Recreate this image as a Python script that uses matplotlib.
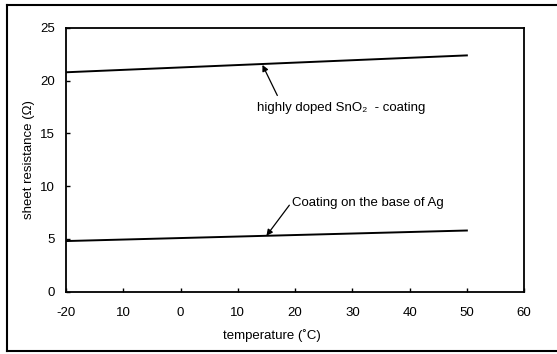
import matplotlib.pyplot as plt
from matplotlib.lines import Line2D

plt.rcParams['font.family'] = ['Liberation Sans', 'DejaVu Sans']

# data
temps = [-20, 50]
sno2_res = [20.8, 22.4]
ag_res = [4.8, 5.8]
x_ticks = [-20, -10, 0, 10, 20, 30, 40, 50, 60]
x_labels = ['-20', '10', '0', '10', '20', '30', '40', '50', '60']
y_ticks = [0, 5, 10, 15, 20, 25]

fig = plt.figure(figsize=(5.57, 3.54), dpi=100)
ax = fig.add_axes([0.1185, 0.176, 0.8225, 0.745])

ax.plot(temps, sno2_res, color='black', lw=1.4)
ax.plot(temps, ag_res, color='black', lw=1.4)

ax.set_xlim(-20, 60)
ax.set_ylim(0, 25)
ax.set_xticks(x_ticks)
ax.set_xticklabels(x_labels)
ax.set_yticks(y_ticks)
ax.tick_params(direction='in', length=3, width=1, labelsize=9.5)
ax.tick_params(axis='x', pad=11)
ax.tick_params(axis='y', pad=8)
for s in ax.spines.values():
    s.set_linewidth(1.3)

ax.set_xlabel('temperature (\u02daC)', fontsize=9.5)
ax.set_ylabel('sheet resistance (\u03a9)', fontsize=9.5)
ax.xaxis.set_label_coords(0.449, -0.14)
ax.yaxis.set_label_coords(-0.068, 0.5)

arrow = dict(arrowstyle='-|>', color='black', lw=0.9, mutation_scale=9,
             shrinkA=0, shrinkB=0)
ax.annotate('', xy=(14.3, 21.5), xytext=(16.9, 18.6), arrowprops=arrow)
ax.text(13.3, 17.4, 'highly doped SnO\u2082  - coating', fontsize=9.5,
        ha='left', va='center')
ax.annotate('', xy=(15.0, 5.3), xytext=(19.0, 8.2), arrowprops=arrow)
ax.text(19.4, 8.4, 'Coating on the base of Ag', fontsize=9.5,
        ha='left', va='center')

# outer frame of the scanned figure
for xs, ys in [([0.013, 1.0], [0.986, 0.986]),
               ([0.013, 1.0], [0.008, 0.008]),
               ([0.013, 0.013], [0.008, 0.986])]:
    fig.add_artist(Line2D(xs, ys, transform=fig.transFigure, color='black', lw=1.5))

fig.savefig('out.png', dpi=100)
